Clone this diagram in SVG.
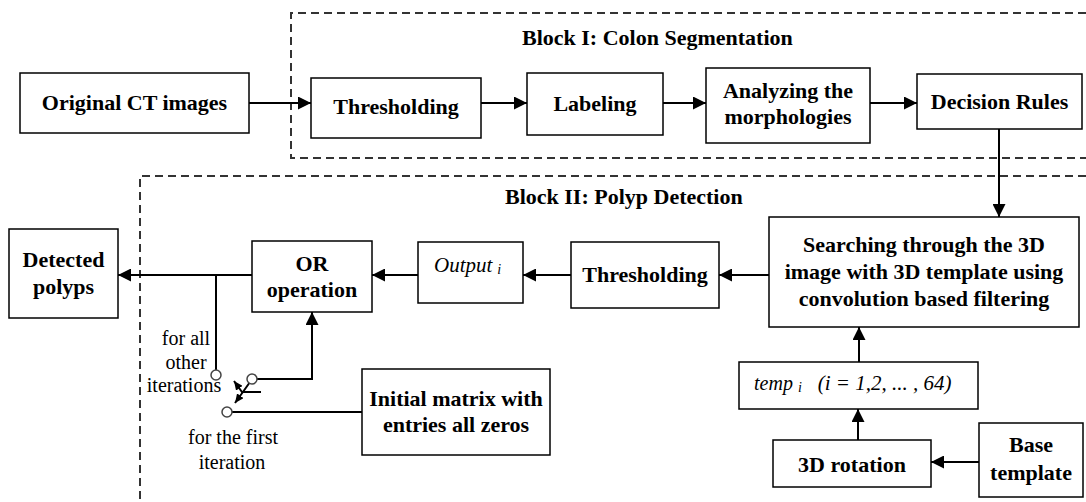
<svg xmlns="http://www.w3.org/2000/svg" width="1086" height="502" viewBox="0 0 1086 502">
  <defs>
    <marker id="arr" markerUnits="userSpaceOnUse" markerWidth="13" markerHeight="13" refX="13" refY="6.5" orient="auto">
      <path d="M0,0 L13,6.5 L0,13 z" fill="#000"/>
    </marker>
    <marker id="arrSmall" markerUnits="userSpaceOnUse" markerWidth="9" markerHeight="8" refX="9" refY="4" orient="auto">
      <path d="M0,0 L9,4 L0,8 z" fill="#000"/>
    </marker>
    <style>
      .box { fill: #fff; stroke: #000; stroke-width: 1.5; }
      .lbl { font-family: "Liberation Serif", "Times New Roman", serif; font-size: 22px; font-weight: bold; fill: #000; text-anchor: middle; }
      .ital { font-family: "Liberation Serif", "Times New Roman", serif; font-style: italic; fill: #000; }
      .note { font-family: "Liberation Serif", "Times New Roman", serif; font-size: 20px; fill: #000; text-anchor: middle; }
      .title { font-family: "Liberation Serif", "Times New Roman", serif; font-size: 22px; font-weight: bold; fill: #000; }
      .dash { fill: none; stroke: #333; stroke-width: 2; stroke-dasharray: 8 5; }
      .wire { fill: none; stroke: #000; stroke-width: 2; }
      .arrow { fill: none; stroke: #000; stroke-width: 2; marker-end: url(#arr); }
      .pin { fill: #fff; stroke: #444; stroke-width: 1.5; }
    </style>
  </defs>

  <!-- block frames -->
  <g id="block1">
    <path class="dash" d="M1086,13 H291 V158 H1086"/>
    <text class="title" x="522" y="45">Block I: Colon Segmentation</text>
  </g>
  <g id="block2">
    <path class="dash" d="M1086,176 H140 V502"/>
    <text class="title" x="505" y="204">Block II: Polyp Detection</text>
  </g>

  <!-- connectors -->
  <g id="connectors">
    <path class="arrow" d="M249,103 H311"/>
    <path class="arrow" d="M481,103 H527"/>
    <path class="arrow" d="M663,103 H706"/>
    <path class="arrow" d="M870,103 H917"/>
    <path class="arrow" d="M999,129 V217"/>
    <path class="arrow" d="M769,275 H719"/>
    <path class="arrow" d="M571,275 H523"/>
    <path class="arrow" d="M418,275 H372"/>
    <path class="arrow" d="M252,275 H118"/>
    <path class="wire" d="M216,275 V370"/>
    <path class="arrow" d="M257,379 H312 V312"/>
    <path class="wire" d="M232,412 H362"/>
    <path class="arrow" d="M858,440 V409"/>
    <path class="arrow" d="M859,362 V327"/>
    <path class="arrow" d="M979,462 H931"/>
    <!-- selector switch -->
    <path class="wire" d="M261,392 H242 L234,381" marker-end="url(#arrSmall)"/>
    <path class="wire" d="M250,382 Q243,392 235,403" marker-end="url(#arrSmall)"/>
    <circle class="pin" cx="216" cy="375" r="5"/>
    <circle class="pin" cx="252" cy="379" r="5"/>
    <circle class="pin" cx="227" cy="412" r="5"/>
  </g>

  <g id="original">
    <rect class="box" x="20" y="73" width="229" height="60"/>
    <text class="lbl" x="134.5" y="110">Original CT images</text>
  </g>
  <g id="thresholding1">
    <rect class="box" x="311" y="78" width="170" height="60"/>
    <text class="lbl" x="396" y="114">Thresholding</text>
  </g>
  <g id="labeling">
    <rect class="box" x="527" y="73" width="136" height="62"/>
    <text class="lbl" x="595" y="111">Labeling</text>
  </g>
  <g id="analyzing">
    <rect class="box" x="706" y="68" width="164" height="75"/>
    <text class="lbl" x="788" y="98">Analyzing the</text>
    <text class="lbl" x="788" y="124">morphologies</text>
  </g>
  <g id="decision">
    <rect class="box" x="917" y="74" width="165" height="55"/>
    <text class="lbl" x="999.5" y="109">Decision Rules</text>
  </g>
  <g id="searching">
    <rect class="box" x="769" y="217" width="310" height="110"/>
    <text class="lbl" x="924" y="252">Searching through the 3D</text>
    <text class="lbl" x="924" y="279">image with 3D template using</text>
    <text class="lbl" x="924" y="306">convolution based filtering</text>
  </g>
  <g id="thresholding2">
    <rect class="box" x="571" y="242" width="148" height="66"/>
    <text class="lbl" x="645" y="282">Thresholding</text>
  </g>
  <g id="output">
    <rect class="box" x="418" y="242" width="105" height="61"/>
    <text class="ital" x="434" y="272" font-size="21">Output<tspan font-size="14" dx="5" dy="2">i</tspan></text>
  </g>
  <g id="or-op">
    <rect class="box" x="252" y="241" width="120" height="71"/>
    <text class="lbl" x="312" y="271">OR</text>
    <text class="lbl" x="312" y="297">operation</text>
  </g>
  <g id="detected">
    <rect class="box" x="9" y="229" width="109" height="89"/>
    <text class="lbl" x="63.5" y="267">Detected</text>
    <text class="lbl" x="63.5" y="294">polyps</text>
  </g>
  <g id="temp">
    <rect class="box" x="739" y="362" width="239" height="47"/>
    <text class="ital" x="754" y="390" font-size="20">temp<tspan font-size="14" dx="5" dy="2">i</tspan><tspan font-size="21" dx="16" dy="-2">(i = 1,2, ... , 64)</tspan></text>
  </g>
  <g id="rotation">
    <rect class="box" x="773" y="440" width="158" height="47"/>
    <text class="lbl" x="852" y="472">3D rotation</text>
  </g>
  <g id="base">
    <rect class="box" x="979" y="423" width="104" height="74"/>
    <text class="lbl" x="1031" y="452">Base</text>
    <text class="lbl" x="1031" y="480">template</text>
  </g>
  <g id="initial">
    <rect class="box" x="362" y="369" width="188" height="86"/>
    <text class="lbl" x="456" y="406">Initial matrix with</text>
    <text class="lbl" x="456" y="432">entries all zeros</text>
  </g>

  <g id="switch-notes">
    <text class="note" x="186" y="345">for all</text>
    <text class="note" x="186" y="369">other</text>
    <text class="note" x="184" y="392">iterations</text>
    <text class="note" x="233" y="444">for the first</text>
    <text class="note" x="232" y="469">iteration</text>
  </g>
</svg>
